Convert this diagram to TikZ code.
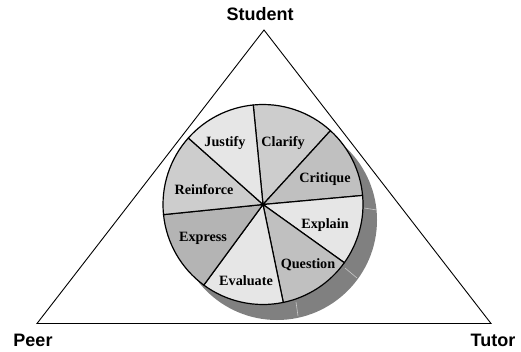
\documentclass[tikz,border=0pt]{standalone}
\usepackage{fontspec}
\setmainfont{Liberation Serif}
\newfontfamily\labelsans{Liberation Sans}
\definecolor{shadowgray}{HTML}{808080}
\definecolor{lightslice}{HTML}{E6E6E6}
\definecolor{midslice}{HTML}{CDCDCD}
\definecolor{darkslice}{HTML}{C0C0C0}
\definecolor{darkerslice}{HTML}{B4B4B4}
\definecolor{edgegray}{HTML}{C8C8C8}
\begin{document}
\begin{tikzpicture}[x=1pt,y=-1pt,
  corner/.style={font=\labelsans\bfseries\fontsize{18}{18}\selectfont, inner sep=0pt},
  slicelabel/.style={font=\bfseries\fontsize{14.2}{14.2}\selectfont, inner sep=0pt},
  slicefill/.style={fill=#1, draw=black, line width=1.2pt, line join=round},
  shadowedge/.style={draw=edgegray, line width=0.6pt}]
\useasboundingbox (0,0) rectangle (521,351);
% triangle
\coordinate (apex) at (264,30);
\coordinate (left) at (37,323.5);
\coordinate (right) at (491,323.5);
\draw[line width=0.9pt, line join=miter] (apex) -- (left) -- (right) -- cycle;
% shadow
\coordinate (sc) at (277,220);
\fill[shadowgray] (sc) circle[radius=100];
\draw[shadowedge] (364,208) -- (377,210);
\draw[shadowedge] (345,268) -- (357,278);
\draw[shadowedge] (296,302) -- (298,316);
% pie
\coordinate (c) at (263,204.5);
\begin{scope}[y=1pt]
\filldraw[slicefill=midslice] (c) -- ++(47.6:100) arc[start angle=47.6, end angle=95.6, radius=100] -- cycle;
\filldraw[slicefill=darkslice] (c) -- ++(5.2:100) arc[start angle=5.2, end angle=47.6, radius=100] -- cycle;
\filldraw[slicefill=lightslice] (c) -- ++(-35.6:100) arc[start angle=-35.6, end angle=5.2, radius=100] -- cycle;
\filldraw[slicefill=darkslice] (c) -- ++(-78.3:100) arc[start angle=-78.3, end angle=-35.6, radius=100] -- cycle;
\filldraw[slicefill=lightslice] (c) -- ++(-126.3:100) arc[start angle=-126.3, end angle=-78.3, radius=100] -- cycle;
\filldraw[slicefill=darkerslice] (c) -- ++(-174.2:100) arc[start angle=-174.2, end angle=-126.3, radius=100] -- cycle;
\filldraw[slicefill=midslice] (c) -- ++(138.3:100) arc[start angle=138.3, end angle=185.8, radius=100] -- cycle;
\filldraw[slicefill=lightslice] (c) -- ++(95.6:100) arc[start angle=95.6, end angle=138.3, radius=100] -- cycle;
\end{scope}
\fill (c) circle[radius=1.6];
% slice labels
\node[slicelabel] (justify) at (225,143) {Justify};
\node[slicelabel] (clarify) at (283,143) {Clarify};
\node[slicelabel] (critique) at (325,179) {Critique};
\node[slicelabel] (reinforce) at (204,190) {Reinforce};
\node[slicelabel] (explain) at (325,225) {Explain};
\node[slicelabel] (express) at (203,238) {Express};
\node[slicelabel] (question) at (308,265) {Question};
\node[slicelabel] (evaluate) at (246,281) {Evaluate};
% corner labels
\node[corner] (student) at (260,14.5) {Student};
\node[corner] (peer) at (33,340.5) {Peer};
\node[corner] (tutor) at (493,340.5) {Tutor};
\end{tikzpicture}
\end{document}
